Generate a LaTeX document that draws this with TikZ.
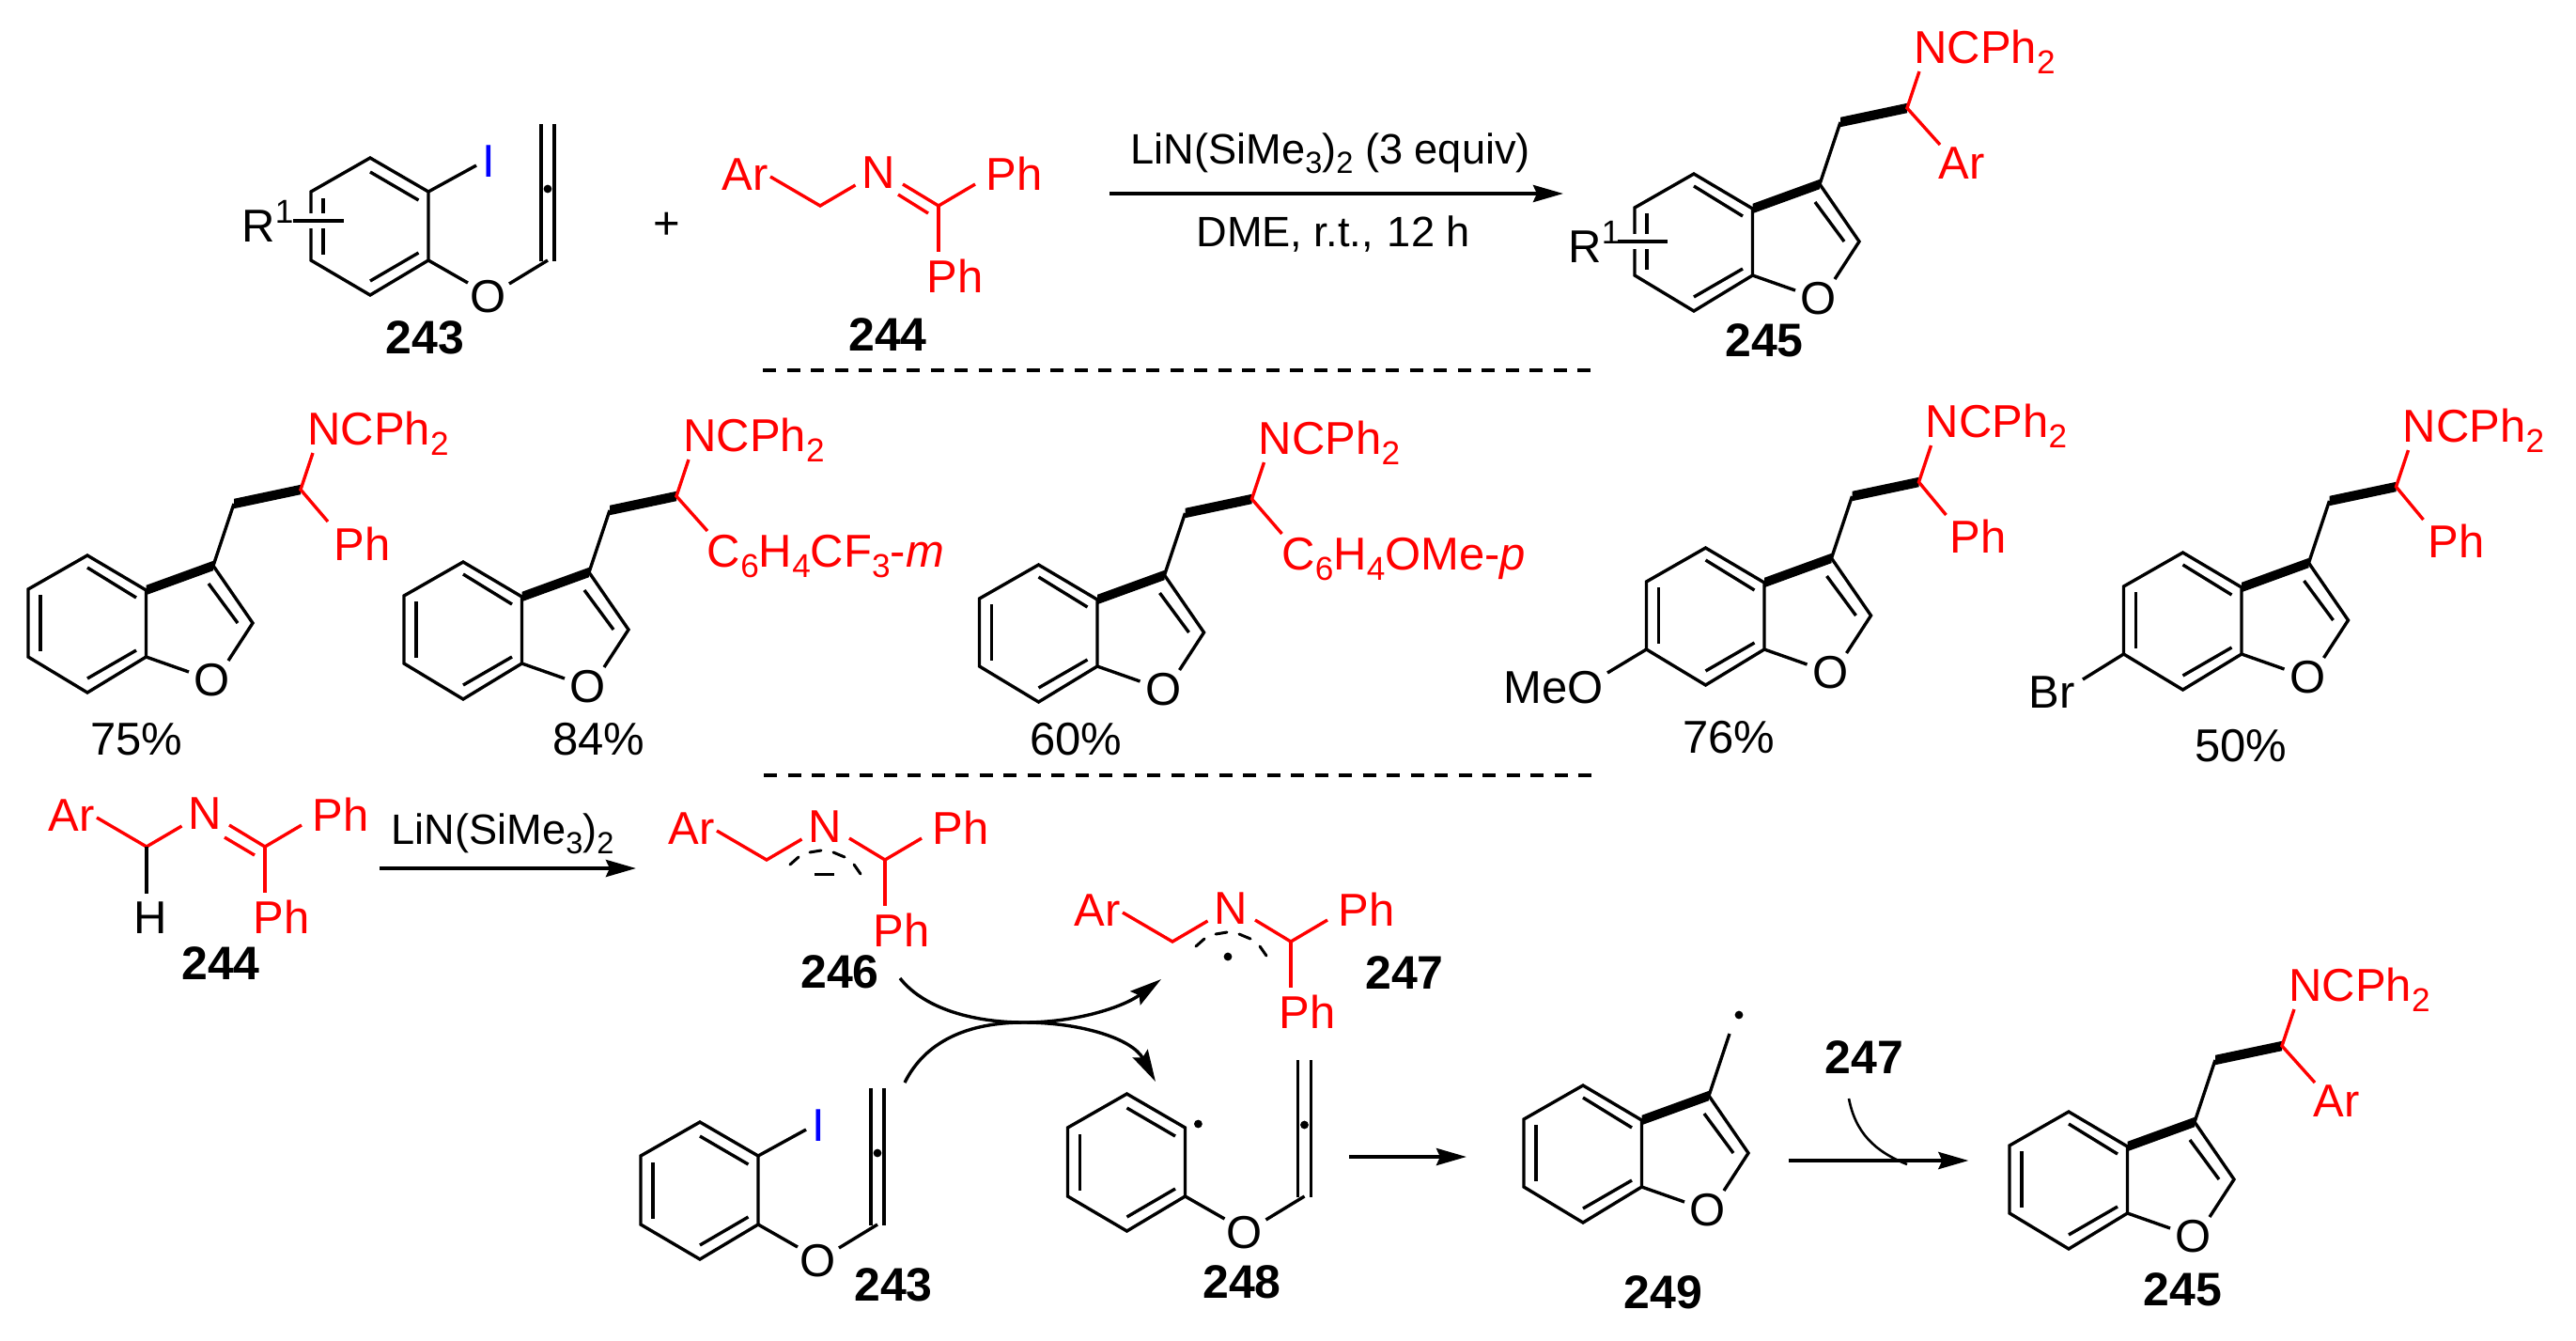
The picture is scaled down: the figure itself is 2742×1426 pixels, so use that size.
\documentclass[tikz,border=0pt]{standalone}
\usepackage{fontspec}
\setmainfont{Liberation Sans}
\usetikzlibrary{arrows.meta}
\definecolor{chemred}{RGB}{255,0,0}
\definecolor{chemblue}{RGB}{0,0,255}
\newcommand{\bigf}{\fontsize{24.5}{29}\selectfont}
\newcommand{\medf}{\fontsize{22.6}{27}\selectfont}
\newcommand{\numf}{\fontsize{25}{30}\selectfont\bfseries}
\newcommand{\sbb}[1]{\raisebox{-5.5pt}{\fontsize{17.6}{20}\selectfont #1}}
\newcommand{\sbm}[1]{\raisebox{-5pt}{\fontsize{16.3}{20}\selectfont #1}}
\newcommand{\spb}[1]{\raisebox{10pt}{\fontsize{17.6}{20}\selectfont #1}}
\tikzset{
  bond/.style={line width=1.7pt,line join=miter},
  rbond/.style={bond,draw=chemred},
  lab/.style={font=\bigf,inner sep=0pt,anchor=base west,text=black},
  rlab/.style={lab,text=chemred},
  blab/.style={font=\bigf,inner sep=0pt,anchor=center,text=chemblue},
  mlab/.style={font=\medf,inner sep=0pt,anchor=base west,text=black},
  atom/.style={font=\bigf,inner sep=0pt,anchor=center,text=black},
  ratom/.style={atom,text=chemred},
  num/.style={font=\numf,inner sep=0pt,anchor=center,text=black},
  rxn/.style={line width=2pt,-{Stealth[length=16pt,width=9pt,inset=2pt]}},
  curly/.style={line width=1.7pt,-{Stealth[length=17pt,width=9pt,inset=2.5pt]}},
  sep/.style={line width=2pt,dash pattern=on 7pt off 5.75pt},
  arc/.style={line width=1.5pt,line cap=round}
}
% bold bond: parallelogram with vertical ends
\newcommand{\thick}[2]{\fill[black] ([yshift=2.6pt]#1) -- ([yshift=2.6pt]#2) -- ([yshift=-2.6pt]#2) -- ([yshift=-2.6pt]#1) -- cycle;}
% benzofuran product: name, x, y, bond end x, y, label x, label text
\newcommand{\bfuran}[7]{%
\begin{scope}[shift={(#2,#3)}]
  \coordinate (#1a) at (0,0); \coordinate (#1b) at (62.5,37); \coordinate (#1c) at (62.5,108);
  \coordinate (#1d) at (0,146); \coordinate (#1e) at (-63,108); \coordinate (#1f) at (-63,36);
  \coordinate (#1g) at (134,11); \coordinate (#1h) at (176,72);
  \coordinate (#1i) at (156,-55); \coordinate (#1j) at (227,-70);
  \coordinate (#1oa) at (108,124); \coordinate (#1ob) at (150,112);
  \coordinate (#1n) at (240,-109); \coordinate (#1s) at (#4,#5);
  \node[atom] (#1O) at (133,133) {O};
  \draw[bond] (#1a) -- (#1b) -- (#1c) -- (#1d) -- (#1e) -- (#1f) -- cycle;
  \draw[bond] (0,13) -- (52,45);
  \draw[bond] (52,101) -- (0,131);
  \draw[bond] (-50,42) -- (-50,102);
  \draw[bond] (#1g) -- (#1h) -- (#1ob);
  \draw[bond] (129,30) -- (160,72);
  \draw[bond] (#1c) -- (#1oa);
  \thick{#1b}{#1g}
  \draw[bond] (#1g) -- (#1i);
  \thick{#1i}{#1j}
  \draw[rbond] (#1n) -- (#1j) -- (#1s);
  \node[rlab] (#1NC) at (234,-118) {NCPh\sbb{2}};
  \node[rlab] (#1R) at (#6,5) {#7};
\end{scope}}
% aryl allenyl ether: name, x, y
\newcommand{\aryl}[3]{%
\begin{scope}[shift={(#2,#3)}]
  \coordinate (#1a) at (0,0); \coordinate (#1b) at (62,36); \coordinate (#1c) at (62,109);
  \coordinate (#1d) at (0,146); \coordinate (#1e) at (-63,109); \coordinate (#1f) at (-63,36);
  \coordinate (#1oa) at (104,133); \coordinate (#1ob) at (148,134); \coordinate (#1p) at (189,109);
  \node[atom] (#1O) at (125.5,148) {O};
  \draw[bond] (#1a) -- (#1b) -- (#1c) -- (#1d) -- (#1e) -- (#1f) -- cycle;
  \draw[bond] (0,15) -- (51.5,45);
  \draw[bond] (51.5,101) -- (0,131);
  \draw[bond] (-50,43) -- (-50,103);
  \draw[bond] (#1c) -- (#1oa);
  \draw[bond] (#1ob) -- (#1p);
  \draw[bond] (182,-36) -- (182,110);
  \draw[bond] (196,-36) -- (196,110);
  \fill (189,33) circle (2.2pt);
\end{scope}}
% iodo substituent
\newcommand{\iodo}[3]{%
\begin{scope}[shift={(#2,#3)}]
  \coordinate (#1ie) at (113,8);
  \draw[bond] (#1b) -- (#1ie);
  \node[blab] (#1I) at (126,4) {I};
\end{scope}}
% imine skeleton, origin at the CH2 carbon: name, x, y
\newcommand{\imine}[3]{%
\begin{scope}[shift={(#2,#3)}]
  \coordinate (#1c) at (0,0); \coordinate (#1k) at (126,0);
  \coordinate (#1ar) at (-53,-31); \coordinate (#1nl) at (37.5,-22);
  \coordinate (#1nr) at (88,-23); \coordinate (#1ph) at (165,-23); \coordinate (#1dn) at (126,49);
  \node[rlab] (#1A) at (-105,-17) {Ar};
  \node[ratom] (#1N) at (62,-35) {N};
  \node[rlab] (#1P) at (176,-17) {Ph};
  \node[rlab] (#1Q) at (113,92) {Ph};
  \draw[rbond] (#1ar) -- (#1c) -- (#1nl);
  \draw[rbond] (#1nr) -- (#1k) -- (#1ph);
  \draw[rbond] (#1k) -- (#1dn);
\end{scope}}
% delocalisation arc under N, origin at the CH2 carbon
\newcommand{\delocarc}[2]{%
\begin{scope}[shift={(#1,#2)}]
  \draw[arc] (25,5) -- (34,-3);
  \draw[arc] (46,-8) -- (58,-10);
  \draw[arc] (71,-8) -- (83,-3);
  \draw[arc] (93,5) -- (100,15);
\end{scope}}
\begin{document}
\begin{tikzpicture}[x=0.5pt,y=-0.5pt]
\path[use as bounding box,fill=white] (0,0) rectangle (2742,1426);

% ---------- top reaction ----------
\aryl{ta}{394}{168}
\iodo{ta}{394}{168}
\draw[white,line width=8pt] (326,235) -- (349,235);
\draw[line width=2pt] (312,235) -- (366,235);
\node[lab] (taR) at (257,257) {R\spb{1}};
\node[num] (n243a) at (452.5,359) {243};
\node[atom] (plus) at (710,240) {+};
\imine{tb}{873}{219}
\draw[rbond] (956,207) -- (988,227);
\node[num] (n244a) at (945,356) {244};
\coordinate (ts) at (1181,206); \coordinate (te) at (1664,206);
\draw[rxn] (ts) -- (te);
\node[mlab] (tc1) at (1203,174) {LiN(SiMe\sbm{3})\sbm{2} (3 equiv)};
\node[mlab] (tc2) at (1273,262) {DME, r.t.,\hspace{7.6pt}12 h};
\bfuran{tp}{1803}{185}{262}{-31}{260}{Ar}
\draw[white,line width=8pt] (1736,257) -- (1759,257);
\draw[line width=2pt] (1722,257) -- (1775,257);
\node[lab] (tpR) at (1669,279) {R\spb{1}};
\node[num] (n245a) at (1878,362) {245};
\coordinate (d1s) at (812,394); \coordinate (d1e) at (1694,394);
\draw[sep] (d1s) -- (d1e);

% ---------- scope row ----------
\bfuran{s1}{93}{591}{256}{-36}{262}{Ph}
\node[lab] (y1) at (96,803) {75\%};
\bfuran{s2}{493}{598}{260}{-33}{259.5}{C\sbb{6}H\sbb{4}CF\sbb{3}-\textit{m}}
\node[lab] (y2) at (588,803) {84\%};
\bfuran{s3}{1105.5}{601}{259}{-33}{258.5}{C\sbb{6}H\sbb{4}OMe-\textit{p}}
\node[lab] (y3) at (1096,803) {60\%};
\bfuran{s4}{1815.5}{583}{256}{-35}{260}{Ph}
\coordinate (s4m) at (1711,716);
\draw[bond] (s4e) -- (s4m);
\node[lab] (s4L) at (1600,748) {MeO};
\node[lab] (y4) at (1791,801) {76\%};
\bfuran{s5}{2323.5}{588}{256}{-35}{261}{Ph}
\coordinate (s5m) at (2217,723);
\draw[bond] (s5e) -- (s5m);
\node[lab] (s5L) at (2159,753) {Br};
\node[lab] (y5) at (2336,810) {50\%};
\coordinate (d2s) at (813,825); \coordinate (d2e) at (1694,825);
\draw[sep] (d2s) -- (d2e);

% ---------- mechanism ----------
\imine{ma}{156}{901}
\draw[rbond] (239,891) -- (271,910);
\coordinate (mh) at (156,951);
\draw[bond] (mac) -- (mh);
\node[lab] (mH) at (142,993) {H};
\node[num] (n244b) at (235,1025) {244};
\coordinate (ms1) at (404,924); \coordinate (me1) at (677,924);
\draw[rxn] (ms1) -- (me1);
\node[mlab] (mc1) at (416,898) {LiN(SiMe\sbm{3})\sbm{2}};

\imine{mb}{816}{915}
\delocarc{816}{915}
\draw[line width=1.5pt] (867,930) -- (888,930);
\node[num] (n246) at (894,1034) {246};

\imine{mc}{1248}{1002}
\delocarc{1248}{1002}
\fill (1307,1018) circle (2.2pt);
\node[num] (n247a) at (1495,1035) {247};

\aryl{md}{745}{1194}
\iodo{md}{745}{1194}
\node[num] (n243b) at (951,1367) {243};

\aryl{me}{1199.5}{1164}
\fill (1275.4,1196) circle (2.2pt);
\node[num] (n248) at (1322,1364) {248};

\coordinate (ca) at (958,1041); \coordinate (cb) at (1236,1042);
\coordinate (cc) at (963,1152); \coordinate (cd) at (1230,1151);
\coordinate (cm) at (1090,1088);
\draw[curly] (ca) .. controls (985,1075) and (1040,1088) .. (cm) .. controls (1145,1088) and (1195,1072) .. (cb);
\draw[curly] (cc) .. controls (985,1108) and (1030,1088) .. (cm) .. controls (1150,1088) and (1205,1105) .. (cd);

\coordinate (ms2) at (1436,1231); \coordinate (me2) at (1561,1231);
\draw[rxn] (ms2) -- (me2);

% radical 249
\begin{scope}[shift={(1685,1155)}]
  \coordinate (rb) at (62.5,37); \coordinate (rc) at (62.5,108);
  \coordinate (rd) at (0,146); \coordinate (re) at (-63,108); \coordinate (rf) at (-63,36);
  \coordinate (ra) at (0,0); \coordinate (rg) at (134,11); \coordinate (rh) at (176,72);
  \coordinate (ri) at (156,-55); \coordinate (roa) at (108,124); \coordinate (rob) at (150,112);
  \node[atom] (rO) at (133,133) {O};
  \draw[bond] (ra) -- (rb) -- (rc) -- (rd) -- (re) -- (rf) -- cycle;
  \draw[bond] (0,13) -- (52,45);
  \draw[bond] (52,101) -- (0,131);
  \draw[bond] (-50,42) -- (-50,102);
  \draw[bond] (rg) -- (rh) -- (rob);
  \draw[bond] (129,30) -- (160,72);
  \draw[bond] (rc) -- (roa);
  \thick{rb}{rg}
  \draw[bond] (rg) -- (ri);
  \fill (166,-75) circle (2.2pt);
\end{scope}
\node[num] (n249) at (1770.5,1375) {249};

\coordinate (ms3) at (1904,1235); \coordinate (me3) at (2095.4,1235);
\draw[rxn] (ms3) -- (me3);
\node[num] (n247b) at (1984.5,1125) {247};
\coordinate (cs) at (1968,1169); \coordinate (ce) at (2030,1239);
\draw[line width=1.3pt] (cs) .. controls (1975,1205) and (1995,1225) .. (ce);

\bfuran{mp}{2202}{1183}{262}{-31}{260}{Ar}
\node[num] (n245b) at (2323.5,1372) {245};
\end{tikzpicture}
\end{document}
